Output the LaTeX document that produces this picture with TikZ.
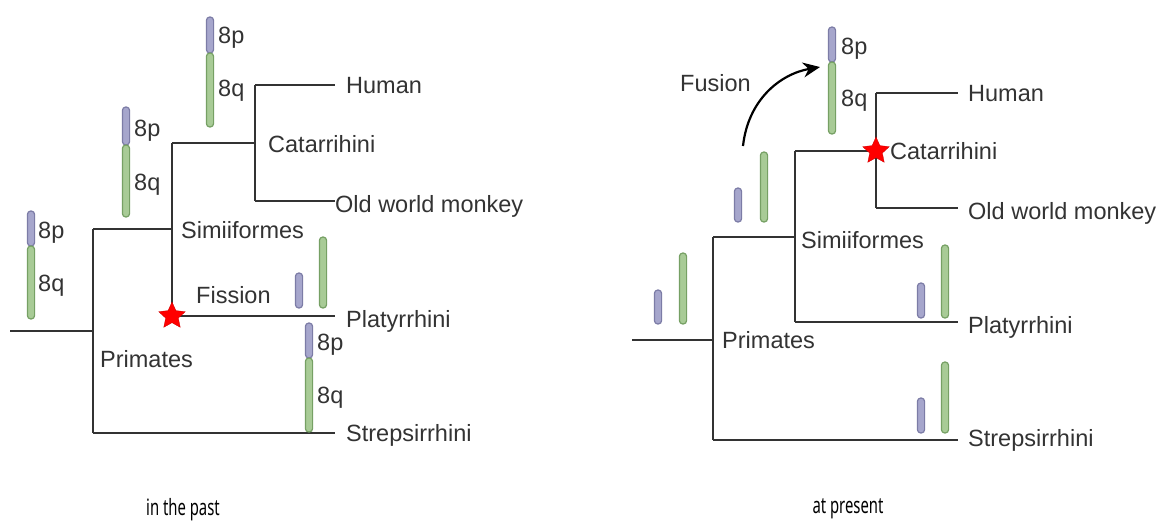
\documentclass[tikz,border=0pt]{standalone}
\usepackage{fontspec}
\setmainfont{Liberation Sans}
\newfontfamily\capfont{Noto Sans}
\usetikzlibrary{shapes.geometric,arrows.meta}
\definecolor{ink}{HTML}{333333}
\definecolor{pfill}{HTML}{A6A6CC}
\definecolor{pline}{HTML}{7C7CA6}
\definecolor{qfill}{HTML}{A8CB96}
\definecolor{qline}{HTML}{76A064}
\newcommand{\chrP}[3]{\draw[fill=pfill,draw=pline,line width=1.2pt,rounded corners=3.4pt] (#1-3.6,#2) rectangle (#1+3.6,#3);}
\newcommand{\chrQ}[3]{\draw[fill=qfill,draw=qline,line width=1.2pt,rounded corners=3.4pt] (#1-3.6,#2) rectangle (#1+3.6,#3);}
\begin{document}
\begin{tikzpicture}[x=1pt,y=-1pt,
  branch/.style={draw=ink,line width=2.6pt},
  lbl/.style={anchor=base west,inner sep=0pt,text=ink,font=\fontsize{23.5}{26}\selectfont},
  caption/.style={anchor=base,inner sep=0pt,text=black,font=\capfont\fontsize{22.5}{26}\selectfont},
  redstar/.style={star,star points=5,star point ratio=2.1,fill=red,draw=red!80!black,line width=0.3pt,minimum size=28pt,inner sep=0pt}]
\useasboundingbox (0,0) rectangle (1164,523);
\fill[white] (0,0) rectangle (1164,523);

% ===== LEFT: in the past =====
\coordinate (Lr0) at (10,331);
\coordinate (Lr) at (93,331);
\coordinate (LpT) at (93,229);
\coordinate (LpB) at (93,433);
\coordinate (LsT) at (172,229);
\coordinate (LsU) at (172,143);
\coordinate (LsB) at (172,316);
\coordinate (LcL) at (255,143);
\coordinate (LcT) at (255,85);
\coordinate (LcB) at (255,201);
\coordinate (LhE) at (335,85);
\coordinate (LoE) at (335,201);
\coordinate (LplE) at (335,316);
\coordinate (LstE) at (335,433);

\chrP{31}{211}{246}\chrQ{31}{246}{319}
\chrP{126}{107}{145}\chrQ{126}{145}{217}
\chrP{210}{17}{53}\chrQ{210}{53}{127}
\chrP{299}{273}{308}\chrQ{323}{237}{308}

\draw[branch] (Lr0) -- (Lr);
\draw[branch] (LpT) -- (LpB);
\draw[branch] (LpT) -- (LsT);
\draw[branch] (LsU) -- (LsB);
\draw[branch] (LsU) -- (LcL);
\draw[branch] (LcT) -- (LcB);
\draw[branch] (LcT) -- (LhE);
\draw[branch] (LcB) -- (LoE);
\draw[branch] (LsB) -- (LplE);
\draw[branch] (LpB) -- (LstE);

\chrP{309}{323}{358}\chrQ{309}{358}{432}

\node[redstar] (Lstar) at (LsB) {};

\node[lbl] (l8p1) at (38,238.5) {8p};
\node[lbl] (l8q1) at (38,291) {8q};
\node[lbl] (l8p2) at (134,136) {8p};
\node[lbl] (l8q2) at (134,190) {8q};
\node[lbl] (l8p3) at (218,43) {8p};
\node[lbl] (l8q3) at (218,96) {8q};
\node[lbl] (l8p4) at (317,350) {8p};
\node[lbl] (l8q4) at (317,403) {8q};

\node[lbl] (Lhuman) at (346,93) {Human};
\node[lbl] (Lowm) at (335,212) {Old world monkey};
\node[lbl] (Lcat) at (268,152) {Catarrihini};
\node[lbl] (Lsim) at (181,238) {Simiiformes};
\node[lbl] (Lfis) at (196,303) {Fission};
\node[lbl] (Lpla) at (346,327) {Platyrrhini};
\node[lbl] (Lstr) at (346,441) {Strepsirrhini};
\node[lbl] (Lpri) at (100,367) {Primates};

\node[caption] (Lcap) at (183,515) {\scalebox{0.66}[1]{in the past}};

% ===== RIGHT: at present =====
\coordinate (Rr0) at (632,340);
\coordinate (Rr) at (713,340);
\coordinate (RpT) at (713,237);
\coordinate (RpB) at (713,440);
\coordinate (RsT) at (795,237);
\coordinate (RsU) at (795,151);
\coordinate (RsB) at (795,322);
\coordinate (RcL) at (876,151);
\coordinate (RcT) at (876,93);
\coordinate (RcB) at (876,208);
\coordinate (RhE) at (958,93);
\coordinate (RoE) at (958,208);
\coordinate (RplE) at (958,322);
\coordinate (RstE) at (958,440);

\chrP{832}{27}{62}\chrQ{832}{62}{134}
\chrP{738}{188}{222}\chrQ{764}{152}{222}
\chrP{658}{290}{324}\chrQ{683}{253}{324}
\chrP{921}{283}{318}\chrQ{945}{245}{318}
\chrP{921}{398}{433}\chrQ{945}{362}{433}

\draw[branch] (Rr0) -- (Rr);
\draw[branch] (RpT) -- (RpB);
\draw[branch] (RpT) -- (RsT);
\draw[branch] (RsU) -- (RsB);
\draw[branch] (RsU) -- (RcL);
\draw[branch] (RcT) -- (RcB);
\draw[branch] (RcT) -- (RhE);
\draw[branch] (RcB) -- (RoE);
\draw[branch] (RsB) -- (RplE);
\draw[branch] (RpB) -- (RstE);

\node[redstar] (Rstar) at (RcL) {};

\coordinate (Fs) at (743,146);
\coordinate (Fe) at (820,67);
\draw[black,line width=2.2pt,-{Stealth[length=17pt,width=15pt]}] (Fs) .. controls (748,100) and (780,74) .. (Fe);

\node[lbl] (r8p) at (841,54) {8p};
\node[lbl] (r8q) at (841,106) {8q};
\node[lbl] (Rfus) at (680,91) {Fusion};
\node[lbl] (Rhuman) at (968,101) {Human};
\node[lbl] (Rowm) at (968,219) {Old world monkey};
\node[lbl] (Rcat) at (890,159) {Catarrihini};
\node[lbl] (Rsim) at (801,248) {Simiiformes};
\node[lbl] (Rpla) at (968,333) {Platyrrhini};
\node[lbl] (Rstr) at (968,446) {Strepsirrhini};
\node[lbl] (Rpri) at (722,348) {Primates};

\node[caption] (Rcap) at (848,513) {\scalebox{0.66}[1]{at present}};
\end{tikzpicture}
\end{document}
